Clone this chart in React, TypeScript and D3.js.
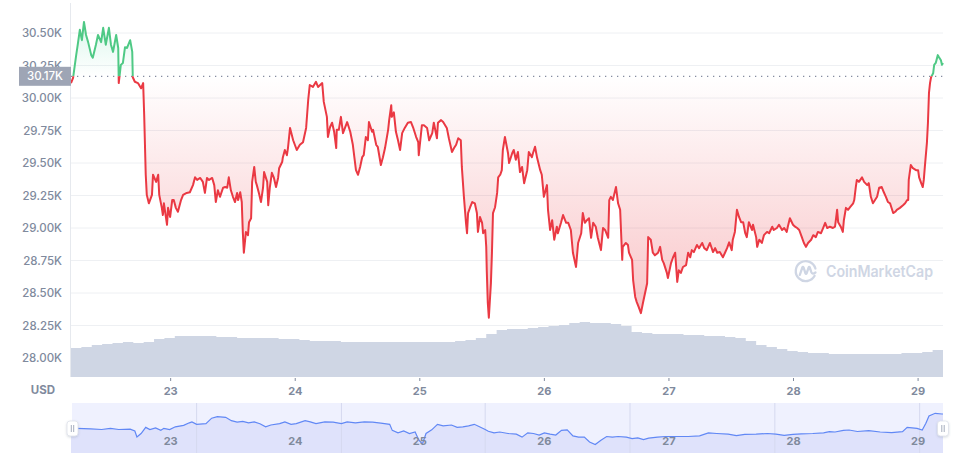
import React from 'react';
import * as d3 from 'd3';

const W = 975;
const H = 467;

// time origin of the 7-day window (hours offsets below are from here)
const START = new Date(2023, 3, 22, 4, 48);
const SPAN_HOURS = 168;

const baselineValue = 30167;
const baselineLabel = '30.17K';
const yTickValues = [28000, 28250, 28500, 28750, 29000, 29250, 29500, 29750, 30000, 30250, 30500];
const yDomain = [27854, 30754];

const priceHours = [
  0, 0.4, 1.0, 1.3, 1.7, 2.1, 2.5, 2.9, 3.3, 3.9,
  4.2, 4.8, 5.2, 5.8, 6.2, 6.7, 7.3, 7.7, 8.1, 8.7,
  9.1, 9.2, 9.6, 10.0, 10.4, 10.8, 11.4, 11.8, 11.9, 12.3,
  12.9, 13.5, 13.9, 14.1, 14.4, 14.6, 15.0, 15.6, 15.8, 16.4,
  16.8, 17.0, 17.5, 17.7, 17.9, 18.5, 18.7, 19.1, 19.5, 19.8,
  20.2, 20.6, 21.2, 21.6, 22.3, 22.9, 23.5, 23.9, 24.3, 24.9,
  25.4, 25.8, 26.2, 26.6, 27.2, 27.6, 27.9, 28.3, 28.7, 29.3,
  29.7, 30.1, 30.4, 30.8, 31.2, 31.6, 32.0, 32.2, 32.6, 32.9,
  33.1, 33.3, 33.7, 34.1, 34.3, 34.7, 34.9, 35.3, 35.6, 35.8,
  36.2, 36.6, 37.0, 37.2, 37.8, 38.0, 38.3, 38.7, 39.1, 39.5,
  39.9, 40.1, 40.7, 40.8, 41.2, 41.6, 41.8, 42.2, 42.8, 43.5,
  44.1, 44.7, 45.3, 45.7, 46.0, 46.6, 47.2, 47.6, 48.4, 48.7,
  49.3, 49.5, 49.9, 50.3, 50.7, 51.1, 51.2, 51.6, 52.0, 52.4,
  53.2, 53.8, 54.3, 54.9, 55.3, 55.7, 56.1, 56.4, 56.8, 57.2,
  57.4, 58.0, 58.2, 58.8, 59.1, 59.7, 60.1, 60.5, 61.1, 61.3,
  61.7, 61.8, 62.2, 62.6, 63.0, 63.4, 63.8, 64.3, 64.9, 65.5,
  65.9, 66.5, 66.9, 67.0, 67.6, 68.0, 68.6, 69.0, 69.6, 69.9,
  70.5, 70.7, 71.3, 71.7, 72.4, 72.8, 73.4, 73.8, 74.2, 74.6,
  75.1, 75.3, 75.7, 76.1, 76.3, 76.5, 76.9, 77.3, 77.8, 78.2,
  78.4, 78.8, 79.2, 79.4, 79.8, 80.0, 80.1, 80.3, 80.5, 80.9,
  81.1, 81.3, 81.7, 82.1, 82.3, 82.7, 83.0, 83.2, 83.6, 84.2,
  84.4, 85.0, 85.3, 85.7, 86.1, 86.5, 86.9, 87.3, 87.9, 88.2,
  88.8, 89.0, 89.4, 89.8, 90.4, 90.7, 91.1, 91.7, 91.9, 92.3,
  92.7, 93.1, 93.6, 93.8, 94.4, 94.8, 95.4, 95.8, 96.3, 96.7,
  97.3, 97.7, 98.3, 98.6, 99.0, 99.4, 99.8, 100.2, 100.6, 101.1,
  101.5, 102.1, 102.5, 102.9, 103.5, 103.7, 104.0, 104.4, 105.0, 105.4,
  105.8, 106.2, 106.3, 106.9, 107.3, 107.5, 108.1, 108.3, 108.7, 109.0,
  109.4, 109.8, 110.2, 110.6, 111.0, 111.2, 111.7, 112.1, 112.5, 113.1,
  113.5, 113.9, 114.2, 114.8, 115.0, 115.6, 116.0, 116.4, 116.8, 117.1,
  117.5, 117.9, 118.5, 118.9, 119.3, 119.6, 120.0, 120.6, 121.0, 121.6,
  122.0, 122.5, 123.1, 123.7, 124.1, 124.5, 125.0, 125.6, 126.0, 126.4,
  126.8, 127.3, 127.5, 127.9, 128.3, 128.7, 129.1, 129.5, 129.9, 130.2,
  130.6, 131.2, 131.4, 132.0, 132.2, 132.6, 133.1, 133.5, 134.1, 134.5,
  135.1, 135.4, 136.0, 136.4, 137.0, 137.4, 137.9, 138.1, 138.5, 139.1,
  139.5, 139.9, 140.3, 140.8, 141.2, 141.6, 142.0, 142.6, 143.0, 143.5,
  143.9, 144.5, 144.9, 145.3, 145.7, 146.2, 146.8, 147.2, 147.6, 147.8,
  148.3, 148.7, 148.9, 149.3, 149.7, 150.1, 150.7, 150.9, 151.2, 151.4,
  151.8, 152.4, 152.8, 153.4, 153.7, 154.1, 154.5, 154.9, 155.3, 155.7,
  156.2, 156.6, 157.0, 157.4, 157.8, 158.4, 158.8, 159.1, 159.7, 160.3,
  160.7, 161.1, 161.3, 161.4, 161.8, 162.2, 162.8, 163.2, 163.4, 163.8,
  164.1, 164.3, 164.5, 164.9, 165.1, 165.3, 165.5, 165.7, 166.1, 166.3,
  166.6, 167.0, 167.2, 167.6, 167.8, 168.0,
];

const priceValues = [
  30115, 30155, 30330, 30410, 30525, 30445, 30585, 30485, 30430, 30330,
  30310, 30410, 30485, 30430, 30540, 30410, 30540, 30410, 30355, 30485,
  30385, 30115, 30255, 30270, 30390, 30385, 30445, 30355, 30160, 30125,
  30115, 30075, 30115, 29870, 29410, 29255, 29190, 29255, 29410, 29355,
  29410, 29255, 29155, 29100, 29190, 29025, 29155, 29085, 29215, 29215,
  29155, 29125, 29215, 29255, 29270, 29275, 29330, 29390, 29370, 29385,
  29355, 29270, 29385, 29370, 29385, 29330, 29200, 29290, 29240, 29310,
  29315, 29310, 29390, 29290, 29240, 29200, 29270, 29215, 29275, 29200,
  28970, 28810, 28970, 28945, 29045, 29075, 29355, 29470, 29355, 29330,
  29270, 29200, 29310, 29430, 29355, 29175, 29310, 29425, 29385, 29315,
  29385, 29460, 29510, 29540, 29600, 29560, 29615, 29770, 29675, 29600,
  29640, 29660, 29770, 29985, 30100, 30085, 30125, 30085, 30115, 29970,
  29855, 29700, 29775, 29810, 29740, 29615, 29755, 29755, 29855, 29730,
  29815, 29740, 29640, 29445, 29410, 29470, 29545, 29560, 29700, 29675,
  29815, 29740, 29755, 29640, 29625, 29485, 29545, 29615, 29755, 29830,
  29945, 29855, 29890, 29740, 29675, 29600, 29730, 29770, 29810, 29815,
  29775, 29700, 29660, 29560, 29790, 29790, 29770, 29675, 29730, 29810,
  29690, 29810, 29830, 29815, 29770, 29690, 29585, 29615, 29640, 29690,
  29675, 29470, 29240, 29040, 28960, 29115, 29160, 29200, 29190, 29115,
  28970, 29085, 29040, 28960, 28985, 28855, 28675, 28425, 28310, 28575,
  28810, 29115, 29160, 29270, 29390, 29410, 29445, 29600, 29700, 29575,
  29500, 29575, 29600, 29525, 29585, 29430, 29470, 29345, 29445, 29585,
  29545, 29575, 29625, 29540, 29445, 29410, 29240, 29330, 29140, 28985,
  29060, 28910, 29010, 28960, 29040, 29100, 29040, 29040, 28985, 28810,
  28700, 28885, 28960, 29115, 29040, 29060, 29075, 28925, 29040, 29010,
  28925, 28830, 29000, 28985, 28925, 29215, 29240, 29215, 29315, 29190,
  29140, 28755, 28855, 28885, 28870, 28810, 28755, 28600, 28470, 28430,
  28390, 28345, 28425, 28500, 28575, 28930, 28910, 28810, 28790, 28810,
  28855, 28755, 28730, 28655, 28615, 28730, 28775, 28810, 28585, 28675,
  28655, 28700, 28715, 28810, 28775, 28830, 28815, 28870, 28845, 28885,
  28845, 28830, 28885, 28815, 28845, 28810, 28815, 28775, 28810, 28845,
  28890, 28830, 28910, 28970, 29140, 29085, 29045, 29045, 28960, 28930,
  29045, 28985, 29025, 28930, 28855, 28910, 28885, 28945, 28970, 28960,
  29010, 28985, 29000, 29025, 28985, 29000, 28970, 29010, 29075, 29025,
  29010, 29000, 28985, 28930, 28885, 28855, 28885, 28910, 28945, 28930,
  28970, 28960, 29000, 29040, 29000, 29010, 29000, 29010, 29140, 29045,
  29010, 28970, 29060, 29155, 29140, 29160, 29190, 29215, 29315, 29370,
  29355, 29390, 29355, 29330, 29345, 29240, 29190, 29215, 29240, 29310,
  29315, 29275, 29240, 29200, 29190, 29115, 29125, 29140, 29155, 29175,
  29190, 29215, 29215, 29370, 29485, 29460, 29445, 29445, 29390, 29345,
  29315, 29370, 29470, 29655, 29810, 30040, 30115, 30160, 30190, 30255,
  30270, 30330, 30315, 30290, 30255, 30270,
];

// 24h volume (USD billions), every 2 hours
const volumeStepHours = 2;
const volumeValues = [
  14.5, 15, 16, 16.5, 17, 17.5, 17, 17.5, 19, 19.5,
  20.5, 20.5, 20.5, 20.5, 20, 20, 19.5, 19.5, 19.5, 19.5,
  19, 19, 18.5, 18, 18, 18, 17.5, 17.5, 17.5, 17.5,
  17.5, 17.5, 17.5, 17.5, 17.5, 17.5, 17.5, 18, 18.5, 19.5,
  21.5, 23.5, 24, 24, 24.5, 25, 25.5, 26, 27, 27.5,
  27, 27, 26.5, 25.5, 22.5, 22, 21.5, 21.5, 21.5, 21,
  21, 20.5, 20.5, 20, 19.5, 18, 16, 15, 14, 13,
  12.5, 12, 12, 11.5, 11.5, 11.5, 11.5, 11.5, 11.5, 11.5,
  12, 12, 12.5, 13.5, 14.5,
];
const volumeDomain = [0, 40];

// navigator overview series [hour, price]
const navPoints: [number, number][] = [
  [0, 28975], [1.1, 28975], [3.8, 28930], [5.9, 28880], [7.6, 28975], [9.2, 28880],
  [11.4, 28905], [12.3, 28760], [12.7, 28280], [13.5, 28560], [14.4, 29050], [15.2, 28880],
  [16.3, 29000], [17.3, 28810], [17.9, 28975], [19.0, 28880], [20.1, 29095], [21.7, 29215],
  [22.8, 29415], [23.3, 29490], [24.2, 29295], [26.0, 29345], [27.1, 29785], [28.2, 29905],
  [29.8, 29855], [30.9, 29585], [32.0, 29465], [33.1, 29535], [34.2, 29415], [35.3, 29490],
  [36.4, 29345], [37.5, 29095], [38.5, 29240], [40.2, 29345], [41.2, 29490], [42.4, 29295],
  [43.4, 29345], [45.1, 29585], [46.1, 29490], [47.2, 29345], [48.9, 29490], [50.5, 29465],
  [52.1, 29345], [53.2, 29490], [54.8, 29415], [56.5, 29490], [58.1, 29465], [59.7, 29390],
  [61.4, 29295], [61.9, 28810], [63.0, 28610], [64.1, 28760], [65.2, 28560], [66.3, 28680],
  [67.0, 28040], [67.7, 27720], [68.4, 28560], [69.5, 28855], [70.6, 29295], [71.7, 29170],
  [73.3, 29240], [74.4, 29050], [75.5, 29095], [76.6, 29170], [77.7, 29295], [78.7, 29095],
  [79.8, 28880], [80.4, 28735], [81.5, 28610], [82.6, 28680], [84.2, 28560], [85.8, 28510],
  [86.9, 28270], [88.0, 28610], [89.1, 28560], [90.2, 28440], [91.2, 28610], [92.3, 28510],
  [93.4, 28440], [94.5, 28810], [95.6, 28855], [96.7, 28370], [97.8, 28270], [98.9, 28270],
  [99.9, 27880], [101.0, 27680], [102.1, 28025], [103.2, 28320], [104.3, 28270], [105.4, 28320],
  [107.0, 28270], [108.1, 28145], [109.2, 28215], [110.3, 28070], [111.3, 28190], [113.0, 28270],
  [114.6, 28320], [116.8, 28320], [118.9, 28320], [121.1, 28370], [122.8, 28610], [124.4, 28560],
  [126.6, 28510], [128.2, 28390], [129.8, 28490], [132.0, 28510], [134.2, 28560], [135.8, 28510],
  [137.4, 28415], [139.1, 28490], [140.7, 28535], [142.9, 28560], [145.0, 28610], [146.1, 28705],
  [147.2, 28680], [148.8, 28810], [149.9, 28840], [151.5, 28720], [153.7, 28785], [155.9, 28680],
  [158.1, 28625], [160.2, 28705], [161.1, 29055], [163.0, 28975], [164.0, 28840], [164.7, 29375],
  [165.3, 29960], [166.5, 30175], [167.8, 30120], [168.0, 30120],
];
const navDomain = [27000, 31000];
const navGridHours = [24.2, 52.1, 79.8, 107.7, 135.6, 163.5];

const toDate = (h: number) => new Date(START.getTime() + h * 3600e3);

type P = { d: Date; v: number };

export default function App() {
  const plotLeft = 71;
  const plotRight = 943;
  const plotBottom = 377;
  const navTop = 403;
  const navBottom = 453;

  const x = d3.scaleTime().domain([START, toDate(SPAN_HOURS)]).range([plotLeft, plotRight]);
  const y = d3.scaleLinear().domain(yDomain).range([plotBottom, 0]);
  const vy = d3.scaleLinear().domain(volumeDomain).range([plotBottom, plotBottom - 80]);
  const ny = d3.scaleLinear().domain(navDomain).range([navBottom, navTop]);

  const n = Math.min(priceHours.length, priceValues.length);
  const price: P[] = d3.range(n).map((i) => ({ d: toDate(priceHours[i]), v: priceValues[i] }));
  const vol: P[] = volumeValues.map((v, i) => ({ d: toDate(i * volumeStepHours), v }));
  const nav: P[] = navPoints.map(([h, v]) => ({ d: toDate(h), v }));

  const yb = y(baselineValue);

  const line = d3.line<P>().x((p) => x(p.d)).y((p) => y(p.v));
  const area = d3.area<P>().x((p) => x(p.d)).y0(yb).y1((p) => y(p.v));
  const volArea = d3
    .area<P>()
    .curve(d3.curveStepAfter)
    .x((p) => x(p.d))
    .y0(plotBottom)
    .y1((p) => vy(p.v));
  const navLine = d3.line<P>().x((p) => x(p.d)).y((p) => ny(p.v));
  const navArea = d3.area<P>().x((p) => x(p.d)).y0(navBottom).y1((p) => ny(p.v));

  const dayTicks = d3.timeDay.range(d3.timeDay.ceil(START), toDate(SPAN_HOURS));
  const fmtDay = d3.timeFormat('%-d');
  const fmtK = (v: number) => (v / 1000).toFixed(2) + 'K';

  const font = 'Inter, "Open Sans", sans-serif';
  const labelColor = '#808a9d';
  const green = '#4fc985';
  const red = '#ea3943';

  const handle = (cx: number) => (
    <g>
      <rect x={cx - 5.5} y={421} width={11} height={15} rx={3} fill="#fff" stroke="#dde1ea" strokeWidth={0.8} filter="url(#hshadow)" />
      <line x1={cx - 1.2} x2={cx - 1.2} y1={425} y2={432} stroke="#a6adbd" strokeWidth={1} />
      <line x1={cx + 1.2} x2={cx + 1.2} y1={425} y2={432} stroke="#a6adbd" strokeWidth={1} />
    </g>
  );

  return (
    <svg
      width={W}
      height={H}
      viewBox={`0 0 ${W} ${H}`}
      style={{ position: 'absolute', left: 0, top: 0, display: 'block', background: '#fff' }}
      fontFamily={font}
    >
      <defs>
        <clipPath id="clipAbove">
          <rect x={0} y={0} width={W} height={yb} />
        </clipPath>
        <clipPath id="clipBelow">
          <rect x={0} y={yb} width={W} height={H - yb} />
        </clipPath>
        <linearGradient id="redFill" gradientUnits="userSpaceOnUse" x1={0} x2={0} y1={yb} y2={y(28300)}>
          <stop offset="0" stopColor={red} stopOpacity={0} />
          <stop offset="1" stopColor={red} stopOpacity={0.3} />
        </linearGradient>
        <linearGradient id="greenFill" gradientUnits="userSpaceOnUse" x1={0} x2={0} y1={yb} y2={y(30600)}>
          <stop offset="0" stopColor="#16c784" stopOpacity={0} />
          <stop offset="1" stopColor="#16c784" stopOpacity={0.16} />
        </linearGradient>
        <filter id="hshadow" x="-50%" y="-50%" width="200%" height="200%">
          <feDropShadow dx={0} dy={1} stdDeviation={1.2} floodColor="#58667e" floodOpacity={0.25} />
        </filter>
      </defs>

      {/* gridlines */}
      {yTickValues.map((v) => (
        <line key={v} x1={plotLeft} x2={plotRight} y1={y(v)} y2={y(v)} stroke="#eef0f3" strokeWidth={1} />
      ))}
      <line x1={70.5} x2={70.5} y1={3} y2={plotBottom} stroke="#e6e9ee" strokeWidth={1} />

      {/* watermark */}
      <g stroke="#cfd6e4" fill="none" strokeWidth={2.3} strokeLinecap="round" strokeLinejoin="round">
        <path d="M 814.6 275.8 A 10 10 0 1 1 815.4 268.5" />
        <path d="M 799.8 275 L 802.2 267.8 Q 802.9 266.2 803.7 267.8 L 805.4 273.2 Q 806 274.6 806.7 273.2 L 808.5 267.8 Q 809.2 266.2 809.9 267.8 L 811.3 272.2 Q 812.3 274.8 815.5 272.5" />
      </g>
      <text x={826} y={277} fontSize={15.5} fontWeight={600} fill="#cfd6e4" textLength={107} lengthAdjust="spacingAndGlyphs">
        CoinMarketCap
      </text>

      {/* volume */}
      <path d={volArea(vol) || ''} fill="#cfd6e4" />

      {/* price fill */}
      <path d={area(price) || ''} fill="url(#greenFill)" clipPath="url(#clipAbove)" />
      <path d={area(price) || ''} fill="url(#redFill)" clipPath="url(#clipBelow)" />

      {/* baseline */}
      <line x1={plotLeft} x2={plotRight} y1={yb} y2={yb} stroke="#858ca0" strokeWidth={1.3} strokeDasharray="1.3 4.7" />

      {/* price line */}
      <path d={line(price) || ''} fill="none" stroke={green} strokeWidth={2} strokeLinejoin="round" clipPath="url(#clipAbove)" />
      <path d={line(price) || ''} fill="none" stroke={red} strokeWidth={2} strokeLinejoin="round" clipPath="url(#clipBelow)" />

      {/* y labels */}
      {yTickValues.map((v) => (
        <text key={v} x={62} y={y(v)} dy="0.35em" textAnchor="end" fontSize={11.5} fontWeight={500} fill={labelColor}>
          {fmtK(v)}
        </text>
      ))}

      {/* baseline label */}
      <rect x={19} y={yb - 9.5} width={52} height={19} fill="#9ea5b5" />
      <text x={45} y={yb} dy="0.35em" textAnchor="middle" fontSize={11.5} fontWeight={500} fill="#fff">
        {baselineLabel}
      </text>

      {/* x axis */}
      {dayTicks.map((d) => (
        <g key={+d}>
          <line x1={x(d)} x2={x(d)} y1={plotBottom + 1} y2={plotBottom + 4} stroke="#808a9d" strokeWidth={1} />
          <text x={x(d)} y={395} textAnchor="middle" fontSize={11} fontWeight={700} fill={labelColor}>
            {fmtDay(d)}
          </text>
        </g>
      ))}
      <text x={43} y={394} textAnchor="middle" fontSize={11.5} fontWeight={700} fill={labelColor}>
        USD
      </text>

      {/* navigator */}
      <rect x={plotLeft + 1} y={navTop} width={plotRight - plotLeft - 1} height={navBottom - navTop} fill="#eff1fe" />
      <path d={navArea(nav) || ''} fill="#dfe2fb" />
      {navGridHours.map((h) => (
        <line key={h} x1={x(toDate(h))} x2={x(toDate(h))} y1={navTop} y2={navBottom} stroke="#d5d9ef" strokeWidth={1} />
      ))}
      <path d={navLine(nav) || ''} fill="none" stroke="#6188f5" strokeWidth={1.2} />
      {dayTicks.map((d) => (
        <text key={'n' + +d} x={x(d)} y={445} textAnchor="middle" fontSize={11} fontWeight={700} fill={labelColor}>
          {fmtDay(d)}
        </text>
      ))}
      {handle(72.5)}
      {handle(943)}
    </svg>
  );
}
